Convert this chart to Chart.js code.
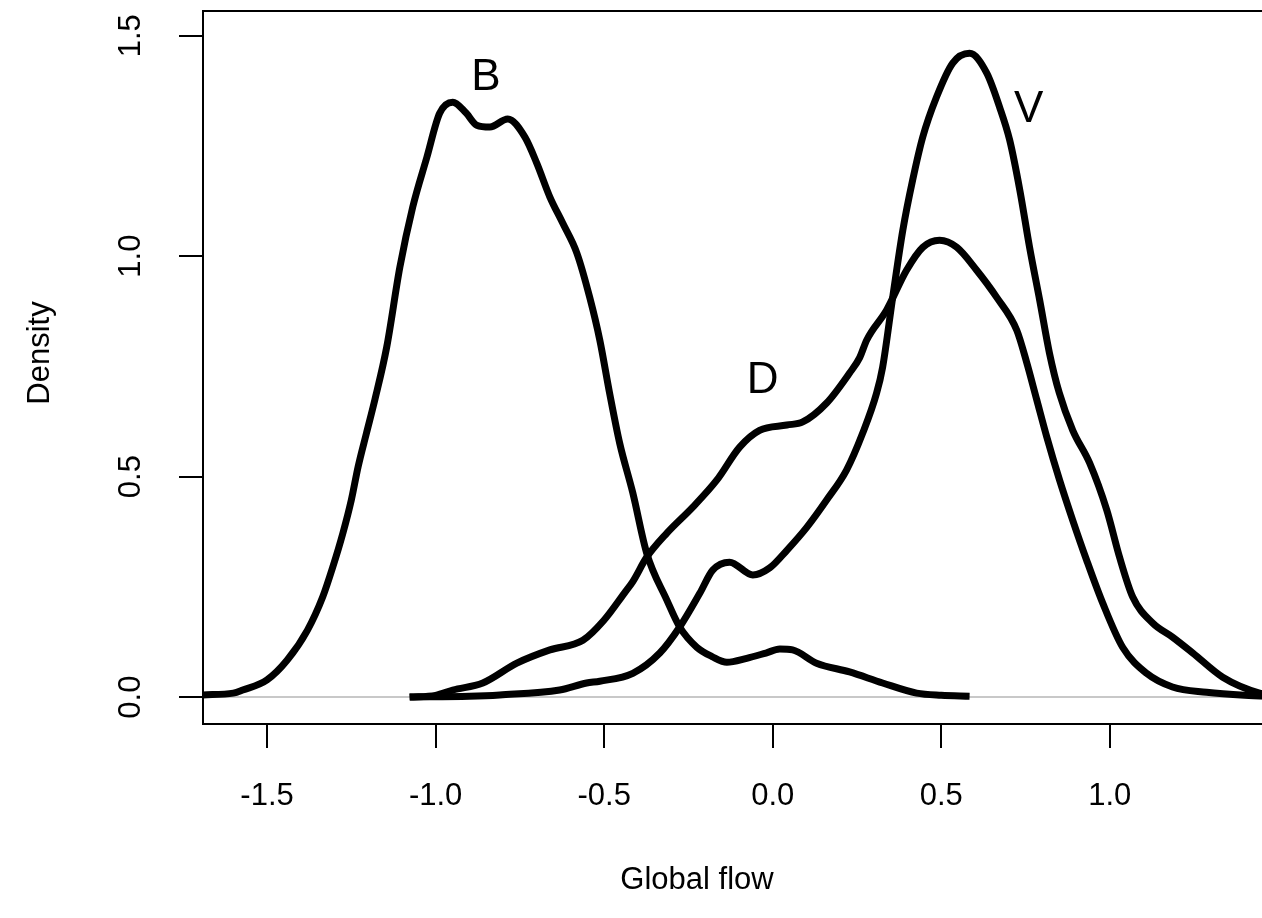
<!DOCTYPE html>
<html>
  <head>
    <title>Global flow density</title>
    <style>
      html, body{ margin: 0; padding: 0; background-color: #ffffff; overflow: hidden; }
      canvas{ position: absolute; left: 0; top: 0; }
    </style>
    <script src="https://cdn.jsdelivr.net/npm/chart.js"></script>
  </head>
  <body>
    <canvas id="myChart" width="1275" height="918"></canvas>

    <script>
      // Density curves (x = global flow, y = density)
      const xB = [-1.69, -1.60, -1.572, -1.50, -1.44, -1.38, -1.335, -1.305, -1.275, -1.25, -1.23, -1.205, -1.18, -1.145, -1.106, -1.068, -1.026, -0.988, -0.949, -0.91, -0.878, -0.839, -0.786, -0.735, -0.700, -0.661, -0.623, -0.581, -0.543, -0.513, -0.484, -0.454, -0.415, -0.374, -0.314, -0.276, -0.225, -0.18, -0.136, -0.077, -0.02, 0.021, 0.059, 0.130, 0.228, 0.326, 0.427, 0.50, 0.584];
      const yB = [0.005, 0.009, 0.016, 0.039, 0.084, 0.152, 0.227, 0.295, 0.372, 0.447, 0.522, 0.599, 0.675, 0.794, 0.975, 1.111, 1.224, 1.324, 1.349, 1.325, 1.297, 1.293, 1.311, 1.270, 1.211, 1.134, 1.075, 1.007, 0.907, 0.810, 0.690, 0.576, 0.463, 0.327, 0.220, 0.159, 0.113, 0.092, 0.079, 0.088, 0.100, 0.109, 0.107, 0.077, 0.057, 0.032, 0.009, 0.004, 0.002];

      const xD = [-1.077, -1.00, -0.949, -0.860, -0.759, -0.661, -0.563, -0.50, -0.44, -0.415, -0.374, -0.314, -0.237, -0.166, -0.098, -0.039, 0.042, 0.089, 0.160, 0.228, 0.258, 0.279, 0.338, 0.397, 0.445, 0.495, 0.546, 0.605, 0.664, 0.724, 0.753, 0.783, 0.813, 0.851, 0.890, 0.931, 0.979, 1.038, 1.109, 1.186, 1.287, 1.40, 1.50];
      const yD = [0.000, 0.004, 0.016, 0.032, 0.077, 0.107, 0.129, 0.175, 0.236, 0.262, 0.317, 0.372, 0.431, 0.492, 0.567, 0.605, 0.617, 0.624, 0.667, 0.735, 0.770, 0.810, 0.878, 0.968, 1.020, 1.036, 1.020, 0.968, 0.907, 0.832, 0.760, 0.675, 0.590, 0.492, 0.401, 0.311, 0.213, 0.113, 0.054, 0.023, 0.011, 0.004, 0.001];

      const xV = [-1.077, -0.90, -0.810, -0.632, -0.552, -0.513, -0.415, -0.335, -0.276, -0.216, -0.178, -0.128, -0.059, -0.009, 0.042, 0.101, 0.160, 0.219, 0.267, 0.308, 0.326, 0.356, 0.386, 0.415, 0.445, 0.486, 0.534, 0.584, 0.635, 0.673, 0.703, 0.733, 0.762, 0.792, 0.821, 0.850, 0.890, 0.940, 0.991, 1.029, 1.068, 1.127, 1.186, 1.246, 1.335, 1.444, 1.50];
      const yV = [0.000, 0.002, 0.005, 0.016, 0.032, 0.036, 0.054, 0.100, 0.159, 0.236, 0.288, 0.306, 0.277, 0.293, 0.333, 0.385, 0.447, 0.515, 0.599, 0.689, 0.748, 0.907, 1.059, 1.172, 1.270, 1.361, 1.438, 1.460, 1.415, 1.338, 1.263, 1.150, 1.020, 0.900, 0.780, 0.690, 0.605, 0.531, 0.424, 0.317, 0.227, 0.168, 0.136, 0.100, 0.045, 0.009, 0.003];

      // curve labels, placed in data coordinates
      const curveLabels = ['B', 'D', 'V'];
      const labelX = [-0.851, -0.030, 0.759];
      const labelY = [1.404, 0.717, 1.331];

      const xTitle = 'Global flow';
      const yTitle = 'Density';

      const pts = (xs, ys) => xs.map((x, i) => ({ x: x, y: ys[i] }));
      const font = 'Liberation Sans, Arial, sans-serif';

      const line = (label, xs, ys) => ({
        label: label,
        data: pts(xs, ys),
        borderColor: '#000000',
        borderWidth: 7,
        pointRadius: 0,
        fill: false,
        cubicInterpolationMode: 'monotone',
        borderJoinStyle: 'round'
      });

      // box around the plot, curve letters and axis titles
      const extras = {
        id: 'extras',
        afterDatasetsDraw(chart) {
          const { ctx, chartArea, scales } = chart;
          ctx.save();
          ctx.strokeStyle = '#000';
          ctx.lineWidth = 2;
          ctx.strokeRect(chartArea.left, chartArea.top, chartArea.right - chartArea.left, chartArea.bottom - chartArea.top);

          ctx.fillStyle = '#000';
          ctx.textAlign = 'center';
          ctx.textBaseline = 'middle';
          ctx.font = '44px ' + font;
          curveLabels.forEach((t, i) => {
            ctx.fillText(t, scales.x.getPixelForValue(labelX[i]), scales.y.getPixelForValue(labelY[i]));
          });

          ctx.font = '31px ' + font;
          ctx.fillText(xTitle, 697, 880);
          ctx.translate(40, 353);
          ctx.rotate(-Math.PI / 2);
          ctx.fillText(yTitle, 0, 0);
          ctx.restore();
        }
      };

      const ctx = document.getElementById('myChart').getContext('2d');
      const myChart = new Chart(ctx, {
        type: 'line',
        data: {
          datasets: [line('B', xB, yB), line('D', xD, yD), line('V', xV, yV)]
        },
        options: {
          responsive: false,
          animation: false,
          layout: { padding: { top: 11, left: 0, right: 0, bottom: 0 } },
          plugins: {
            legend: { display: false },
            tooltip: { enabled: false }
          },
          scales: {
            x: {
              type: 'linear',
              min: -1.69,
              max: 1.49,
              afterFit: (s) => { s.height = 194; s.paddingLeft = 0; s.paddingRight = 0; },
              grid: { drawOnChartArea: false, tickLength: 24, tickColor: '#000', lineWidth: 2 },
              border: { display: true, color: '#000', width: 2 },
              ticks: {
                stepSize: 0.5,
                includeBounds: false,
                maxRotation: 0,
                padding: 30,
                color: '#000',
                font: { family: font, size: 31 },
                callback: (v) => v.toFixed(1)
              }
            },
            y: {
              min: -0.061,
              max: 1.556,
              afterFit: (s) => { s.width = 203; s.paddingTop = 0; s.paddingBottom = 0; },
              grid: {
                drawOnChartArea: true,
                tickLength: 24,
                tickColor: '#000',
                lineWidth: 2,
                color: (c) => (c.tick && c.tick.value === 0 ? '#c8c8c8' : 'rgba(0,0,0,0)')
              },
              border: { display: true, color: '#000', width: 2 },
              ticks: {
                stepSize: 0.5,
                includeBounds: false,
                minRotation: 90,
                maxRotation: 90,
                crossAlign: 'center',
                padding: 26,
                color: '#000',
                font: { family: font, size: 31 },
                callback: (v) => v.toFixed(1)
              }
            }
          }
        },
        plugins: [extras]
      });
    </script>
  </body>
</html>
